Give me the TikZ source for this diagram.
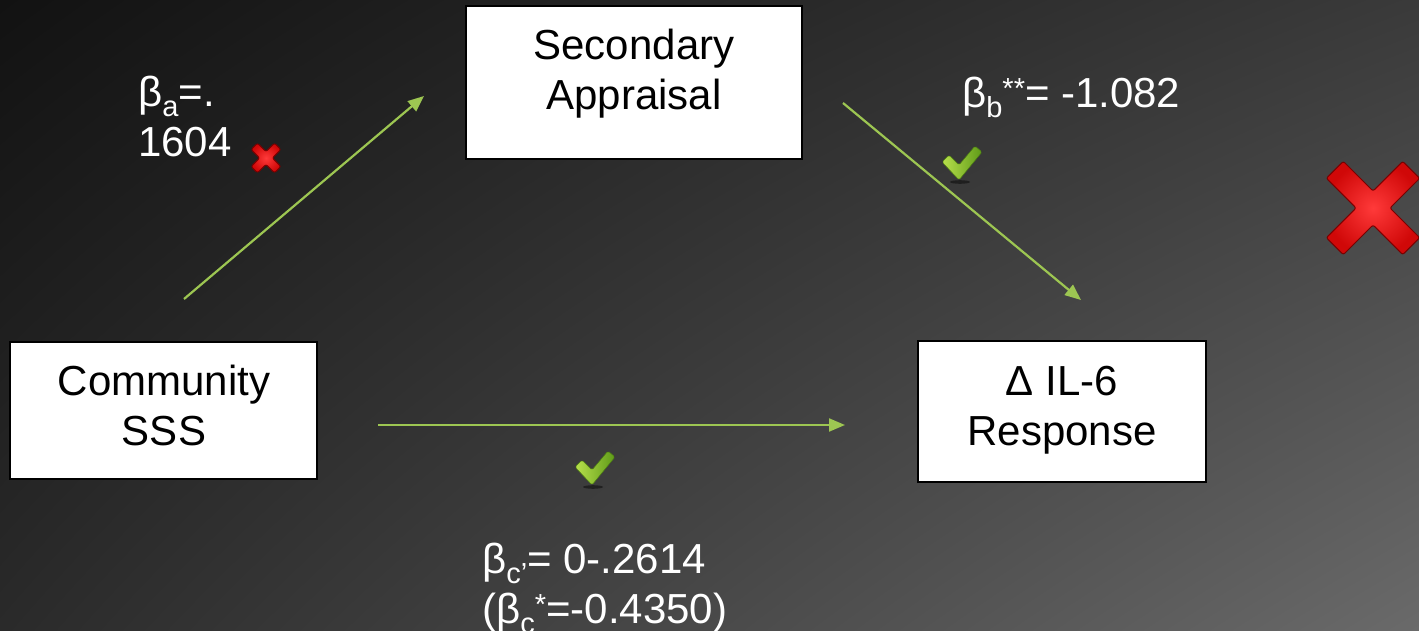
\documentclass[tikz,border=0pt]{standalone}
\usepackage{fontspec}
\setmainfont{Liberation Sans}
\usetikzlibrary{arrows.meta,shadings}
\definecolor{arrowgreen}{HTML}{9DC652}
\definecolor{bgTL}{HTML}{121212}
\definecolor{bgTR}{HTML}{3A3A3A}
\definecolor{bgBL}{HTML}{2A2A2A}
\definecolor{bgBR}{HTML}{6A6A6A}
\definecolor{crossdark}{HTML}{7A0000}
\definecolor{crossred}{HTML}{D00808}
\definecolor{crosslight}{HTML}{FF3A3A}
\definecolor{checklight}{HTML}{B8E04C}
\definecolor{checkdark}{HTML}{5E9A18}
\newcommand\subtxt[1]{\raisebox{-10pt}{\fontsize{29}{29}\selectfont #1}}
\newcommand\suptxt[1]{\raisebox{9pt}{\fontsize{29}{29}\selectfont #1}}
\newcommand\drawcross[3]{%
  \begin{scope}[shift={#1}, rotate=45]
    \shade[inner color=crosslight, outer color=crossred, draw=crossdark, line width=1pt, rounded corners=2pt]
      (#3,#3) -- (#2,#3) -- (#2,-#3) -- (#3,-#3) -- (#3,-#2) -- (-#3,-#2) -- (-#3,-#3) -- (-#2,-#3) -- (-#2,#3) -- (-#3,#3) -- (-#3,#2) -- (#3,#2) -- cycle;
  \end{scope}}
\newcommand\drawcheck[1]{%
  \begin{scope}[shift={#1}]
    \fill[black, opacity=0.45] (-2,17) ellipse (10pt and 1.8pt);
    \shade[left color=checklight, right color=checkdark, draw=checkdark!80!black, line width=0.5pt, rounded corners=1.5pt]
      (-20,-3) -- (-13,-10) -- (-3,0) -- (13,-19) -- (20,-13) -- (-3,15) -- cycle;
  \end{scope}}
\begin{document}
\begin{tikzpicture}[x=1pt,y=-1pt,
  boxnode/.style={draw=black, line width=1.5pt, fill=white, inner sep=0pt},
  boxtext/.style={font=\fontsize{42}{50}\selectfont, align=center, inner sep=0pt, text=black},
  labeltext/.style={font=\fontsize{42}{50}\selectfont, text=white, inner sep=0pt},
  conn/.style={draw=arrowgreen, line width=2.2pt, -{Triangle[length=16pt,width=13pt]}}]
\useasboundingbox (0,0) rectangle (1419,631);
\shade[upper left=bgTL, upper right=bgTR, lower left=bgBL, lower right=bgBR] (0,0) rectangle (1419,631);

% boxes
\node[boxnode, minimum width=336pt, minimum height=153pt] (sa) at (634,82.5) {};
\node[boxnode, minimum width=307pt, minimum height=137pt] (cs) at (163.5,410.5) {};
\node[boxnode, minimum width=288pt, minimum height=141pt] (il) at (1062,411.5) {};
\node[boxtext] (sat) at (634,75) {\strut Secondary\\\strut Appraisal};
\node[boxtext] (cst) at (164,410) {\strut Community\\\strut SSS};
\node[boxtext] (ilt) at (1062,410) {\strut Δ IL-6\\\strut Response};

% connectors
\coordinate (a1s) at (184,299);
\coordinate (a1e) at (424,96);
\coordinate (a2s) at (843,103);
\coordinate (a2e) at (1081,300);
\coordinate (a3s) at (378,425);
\coordinate (a3e) at (845,425);
\draw[conn] (a1s) -- (a1e);
\draw[conn] (a2s) -- (a2e);
\draw[conn] (a3s) -- (a3e);

% labels
\node[labeltext, align=left, anchor=west] (la) at (138,122) {\strut β\subtxt{a}=.\\\strut 1604};
\node[labeltext, anchor=west] (lb) at (962,98) {\strut β\subtxt{b}\suptxt{**}= -1.082};
\node[labeltext, align=left, anchor=west] (lc) at (482,588) {\strut β\subtxt{c’}= 0-.2614\\\strut (β\subtxt{c}\suptxt{*}=-0.4350)};

% marks
\drawcross{(266,158)}{16.5}{4.5}
\drawcross{(1373,208)}{54}{12}
\drawcheck{(962,165)}
\drawcheck{(595,470)}
\end{tikzpicture}
\end{document}
